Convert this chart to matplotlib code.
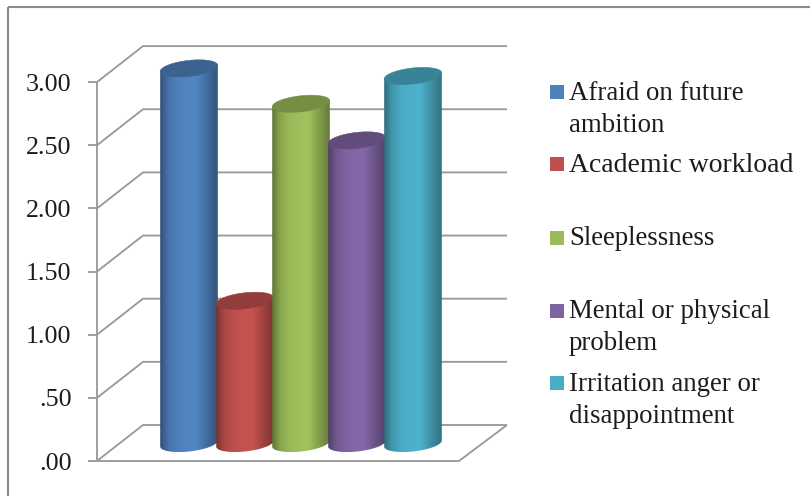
import numpy as np
import matplotlib
matplotlib.use("Agg")
import matplotlib.pyplot as plt
from matplotlib.colors import LinearSegmentedColormap, to_rgb
from matplotlib.patches import PathPatch, Rectangle
from matplotlib.path import Path

# Mean scores per stress item
categories = ["Afraid on future\nambition", "Academic workload", "Sleeplessness",
              "Mental or physical\nproblem", "Irritation anger or\ndisappointment"]
values = [2.97, 1.13, 2.69, 2.40, 2.91]
tick_values = [0, 0.5, 1.0, 1.5, 2.0, 2.5, 3.0]
tick_labels = [".00", ".50", "1.00", "1.50", "2.00", "2.50", "3.00"]
colors = ["#4F81BD", "#C0504D", "#9BBB59", "#8064A2", "#4BACC6"]
legend_baselines = [[99.5, 132], [172.5], [245.5], [318, 350.5], [391, 423]]
legend_boxes = [85, 157, 231, 304, 376]

W, H = 810, 496
GRID = "#9a9a9a"
TEXT = "#1c1c1c"
FONT = "Liberation Serif"
FS = 18.7
LEGEND_FS = 19.4

# Scale of the drawing: 126.3 px per score unit, 56 px per category
PX_Y, PX_X = 126.3, 56.0
X0_PX, Y0_PX = 189.0, 443.5

fig = plt.figure(figsize=(W / 100, H / 100), dpi=100, facecolor="white")
ax = fig.add_axes([0, 0, 1, 1])
xlim = (-X0_PX / PX_X, (W - X0_PX) / PX_X)
ylim = ((Y0_PX - H) / PX_Y, Y0_PX / PX_Y)


def xd(px):
    return (px - X0_PX) / PX_X


def yoff(px):
    # vertical pixel offset (positive = down) in score units
    return -px / PX_Y


# Walls and floor of the 3-D frame
front_x, back_x, back_right, front_right = xd(97), xd(143), xd(507), xd(459)
tick_left = xd(88)
front_dy, back_dy = yoff(17.5), yoff(-18.5)
line = dict(color=GRID, lw=1.35, solid_capstyle="butt", zorder=1)
for v in tick_values:
    ax.plot([tick_left, front_x], [v + front_dy] * 2, **line)
    ax.plot([front_x, back_x, back_right], [v + front_dy, v + back_dy, v + back_dy], **line)
ax.plot([front_x, front_x], [front_dy, 3 + front_dy], **line)
ax.plot([front_x, front_right, back_right],
        [front_dy, front_dy, back_dy], **line)

for v, lab in zip(tick_values, tick_labels):
    ax.text(xd(71.5), v + front_dy + yoff(8.5), lab, ha="right", va="baseline",
            family=FONT, fontsize=FS, color=TEXT)

# Cylinders, drawn left to right so that each overlaps the one before it
half_w = 28.8 / PX_X
minor = 8.0 / PX_Y
skew = 3.0 / PX_Y
t_low = np.linspace(np.pi, 2 * np.pi, 80)
t_all = np.linspace(0, 2 * np.pi, 160)
xs = np.linspace(0, 1, 256)[None, :]

for i, (v, c) in enumerate(zip(values, colors)):
    base = np.array(to_rgb(c))
    dark = base * 0.62
    mid = base * 0.88
    light = np.minimum(base * 1.04, 1)
    cmap = LinearSegmentedColormap.from_list(
        f"shade{i}",
        [(0, dark), (0.14, mid), (0.32, base), (0.62, light), (0.82, mid * 0.95), (1, dark * 1.05)])
    # outline: bottom half of the base ellipse closed up to the top ellipse's ends
    bx = i + half_w * np.cos(t_low)
    by = minor * np.sin(t_low) + skew * np.cos(t_low)
    verts = np.column_stack([
        np.r_[bx, i + half_w, i - half_w, bx[0]],
        np.r_[by, v + skew, v - skew, by[0]],
    ])
    codes = [Path.MOVETO] + [Path.LINETO] * (len(verts) - 2) + [Path.CLOSEPOLY]
    body = PathPatch(Path(verts, codes), facecolor="none", edgecolor="none",
                     zorder=2 + i, transform=ax.transData)
    ax.add_patch(body)
    im = ax.imshow(xs, cmap=cmap, aspect="auto", zorder=2 + i,
                   extent=(i - half_w, i + half_w, -0.2, v + 0.1))
    im.set_clip_path(body)
    # top cap
    tx = i + half_w * np.cos(t_all)
    ty = v + minor * np.sin(t_all) + skew * np.cos(t_all)
    ax.fill(tx, ty, color=tuple(base * 0.76), lw=0.4, zorder=2 + i)

ax.set_xlim(*xlim)
ax.set_ylim(*ylim)
ax.axis("off")

# Chart frame: only the top and left edges fall inside the image
frame = dict(color="#8a8a8a", lw=1.5, solid_capstyle="butt",
             transform=fig.transFigure, clip_on=False)
ax.plot([7.5 / W, 1], [1 - 7 / H] * 2, **frame)
ax.plot([7.5 / W] * 2, [1 - 7 / H, 0], **frame)

# Legend
for lab, c, lines, box in zip(categories, colors, legend_baselines, legend_boxes):
    fig.add_artist(Rectangle((550 / W, 1 - (box + 13.5) / H), 13.5 / W, 13.5 / H,
                             facecolor=c, edgecolor="none", transform=fig.transFigure))
    # the one long single-line entry runs a little wider than the rest
    size = 20.0 if lab == "Academic workload" else LEGEND_FS
    for txt, y in zip(lab.split("\n"), lines):
        fig.text(569 / W, 1 - y / H, txt, ha="left", va="baseline",
                 family=FONT, fontsize=size, color=TEXT)

fig.savefig("out.png", dpi=100, facecolor="white")
